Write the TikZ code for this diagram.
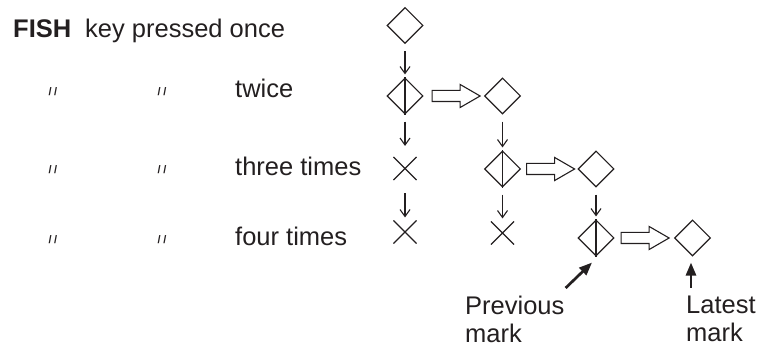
\documentclass[tikz,border=0pt]{standalone}
\usepackage{fontspec}
\setmainfont{Liberation Sans}
\usetikzlibrary{shapes.geometric, shapes.misc, shapes.arrows, arrows.meta, positioning}
\definecolor{ink}{RGB}{35,31,32}

\begin{document}
\begin{tikzpicture}[
  x=1pt, y=-1pt,
  every node/.style={inner sep=0pt, text=ink},
  rowtext/.style={font=\fontsize{25.5}{28}\selectfont, anchor=base west},
  ditto/.style={font=\fontsize{11}{11}\selectfont\bfseries},
  markbox/.style={draw=ink, diamond, aspect=1, minimum width=36pt, minimum height=36pt, line width=1.1pt},
  gone/.style={draw=ink, cross out, minimum size=22pt, line width=1.1pt},
  fat/.style={draw=ink, single arrow, single arrow head extend=6pt, single arrow tip angle=60,
    minimum height=48pt, inner xsep=0pt, inner ysep=5pt, line width=1.1pt},
  down/.style={draw=ink, -{Straight Barb[length=7pt,width=10pt]}, line width=1.1pt, shorten <=7pt, shorten >=3pt},
  pointer/.style={draw=ink, -{Triangle[length=13pt,width=10pt]}, line width=2.7pt}]
  \useasboundingbox (0,0) rectangle (761,347);

  % left column of texts
  \node[rowtext] (fish) at (13,38) {\bfseries FISH};
  \node[rowtext] (once) at (85,38) {key pressed once};
  \node[rowtext] (twice) at (235,98) {twice};
  \node[rowtext] (three) at (235,176) {three times};
  \node[rowtext] (four) at (235,246) {four times};
  \foreach \y in {91.5,169.5,239.5}
    \foreach \x in {53,162}
      \node[ditto] at (\x,\y) {/\kern2.5pt/};

  % marks
  \node[markbox] (d11) at (405,25.5) {};
  \node[markbox] (d21) at (405,96) {};
  \node[markbox] (d22) at (502.5,96) {};
  \node[markbox] (d32) at (502.5,169) {};
  \node[markbox] (d33) at (596,169) {};
  \node[markbox] (d43) at (596,238) {};
  \node[markbox] (d44) at (692.5,238) {};
  \foreach \n in {d21,d32,d43}
    \draw[ink, line width=1.1pt] (\n.north) -- (\n.south);
  \node[gone] (c31) at (405,168.5) {};
  \node[gone] (c41) at (405,232) {};
  \node[gone] (c42) at (502.5,233) {};

  % moves
  \node[fat, right=8pt of d21] (f2) {};
  \node[fat, right=5pt of d32] (f3) {};
  \node[fat, right=6pt of d43] (f4) {};

  \draw[down] (d11) -- (d21);
  \draw[down, shorten >=11pt] (d21) -- (c31);
  \draw[down, shorten <=13pt] (c31) -- (c41);
  \draw[down] (d22) -- (d32);
  \draw[down] (d32) -- (c42);
  \draw[down] (d33) -- (d43);

  % pointers
  \node[rowtext, anchor=north west, align=left] (prev) at (465,296) {Previous\\mark};
  \node[rowtext, anchor=north west, align=left] (latest) at (686,296) {Latest\\mark};
  \draw[pointer] ([xshift=1pt,yshift=8pt]prev.north east) -- ([xshift=-4pt,yshift=-6pt]d43.south);
  \draw[pointer] ([xshift=5pt,yshift=8pt]latest.north west) -- ([xshift=-1.5pt,yshift=-6pt]d44.south);
\end{tikzpicture}
\end{document}
